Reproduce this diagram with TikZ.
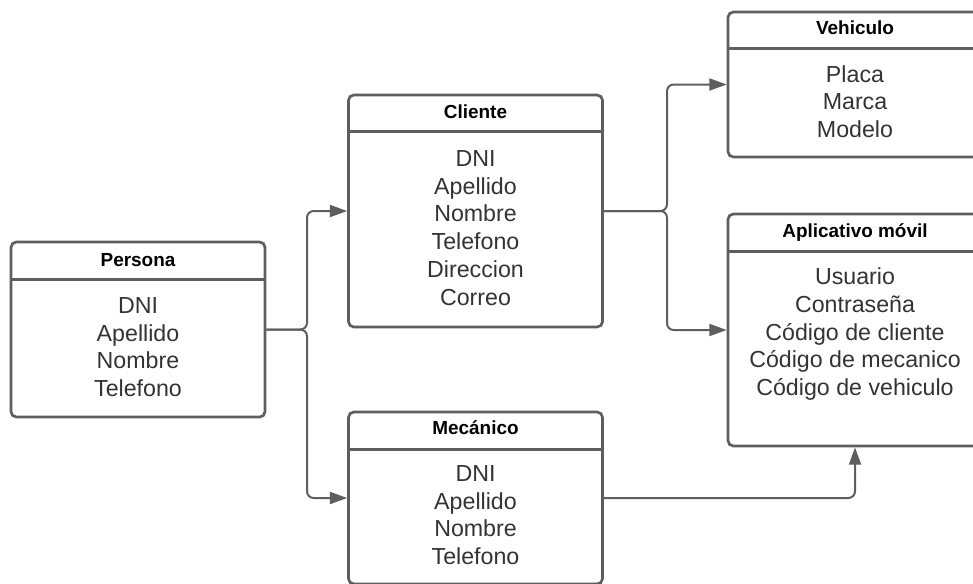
\documentclass[tikz,border=0pt]{standalone}
\usepackage{fontspec}
\setmainfont{Liberation Sans}
\usetikzlibrary{calc}
\usetikzlibrary{arrows.meta}
\definecolor{edgegray}{HTML}{5E5E5E}
\definecolor{textgray}{HTML}{333333}

\tikzset{
  classbox/.style={draw=edgegray, line width=2pt, rounded corners=4pt, minimum width=190.5pt},
  classline/.style={draw=edgegray, line width=2pt},
  classtitle/.style={anchor=base, font={\bfseries\fontsize{14.2pt}{17pt}\selectfont}},
  classbody/.style={anchor=north, inner sep=0pt, align=center, text=textgray, font={\fontsize{17.4pt}{20.8pt}\selectfont}},
  flow/.style={draw=edgegray, line width=1.5pt, rounded corners=5pt, -{Triangle[length=13pt,width=9pt]}}
}

\begin{document}
\begin{tikzpicture}[x=0.75pt,y=-0.75pt]

\useasboundingbox (0,0) rectangle (973,583);
\clip (0,0) rectangle (973,583);

\node[classbox, minimum height=131.25pt] (persona) at (138,329.5) {};
\node[classbox, minimum height=174pt] (cliente) at (475.5,211) {};
\node[classbox, minimum height=129pt] (mecanico) at (475.5,498) {};
\node[classbox, minimum height=108.75pt] (vehiculo) at (855,84.5) {};
\node[classbox, minimum height=174pt] (app) at (855,330) {};

\draw[classline] ($(persona.north west)+(0,39)$) -- ($(persona.north east)+(0,39)$);
\draw[classline] ($(cliente.north west)+(0,38)$) -- ($(cliente.north east)+(0,38)$);
\draw[classline] ($(mecanico.north west)+(0,39)$) -- ($(mecanico.north east)+(0,39)$);
\draw[classline] ($(vehiculo.north west)+(0,38)$) -- ($(vehiculo.north east)+(0,38)$);
\draw[classline] ($(app.north west)+(0,39)$) -- ($(app.north east)+(0,39)$);

\node[classtitle] (personatitle) at ($(persona.north)+(0,25.5)$) {Persona};
\node[classtitle] (clientetitle) at ($(cliente.north)+(0,24.5)$) {Cliente};
\node[classtitle] (mecanicotitle) at ($(mecanico.north)+(0,23.5)$) {Mecánico};
\node[classtitle] (vehiculotitle) at ($(vehiculo.north)+(0,23.5)$) {Vehiculo};
\node[classtitle] (apptitle) at ($(app.north)+(0,25)$) {Aplicativo móvil};

\node[classbody] (personabody) at ($(persona.north)+(0,56.5)$) {DNI\\Apellido\\Nombre\\Telefono};
\node[classbody] (clientebody) at ($(cliente.north)+(0,56.5)$) {DNI\\Apellido\\Nombre\\Telefono\\Direccion\\Correo};
\node[classbody] (mecanicobody) at ($(mecanico.north)+(0,54.5)$) {DNI\\Apellido\\Nombre\\Telefono};
\node[classbody] (vehiculobody) at ($(vehiculo.north)+(0,54.5)$) {Placa\\Marca\\Modelo};
\node[classbody] (appbody) at ($(app.north)+(0,55)$) {Usuario\\Contraseña\\Código de cliente\\Código de mecanico\\Código de vehiculo};

\coordinate (split1) at (307,0);
\coordinate (split2) at (667,0);

\draw[flow] (persona.east) -- (persona.east -| split1) |- (cliente.west);
\draw[flow] (persona.east) -- (persona.east -| split1) |- (mecanico.west);
\draw[flow] (cliente.east) -- (cliente.east -| split2) |- (vehiculo.west);
\draw[flow] (cliente.east) -- (cliente.east -| split2) |- (app.west);
\draw[flow] (mecanico.east) -| (app.south);

\end{tikzpicture}
\end{document}
